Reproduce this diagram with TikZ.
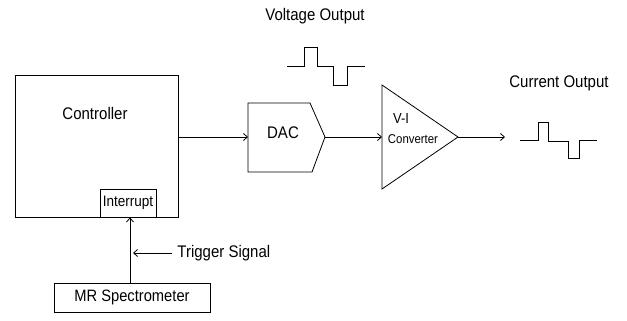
\documentclass[tikz,border=0pt]{standalone}
\usepackage{fontspec}
\usepackage{graphicx}
\setmainfont{Liberation Sans}
\usetikzlibrary{arrows.meta}
\newcommand{\tallt}[1]{\scalebox{1}[1.12]{#1}}
\begin{document}
\begin{tikzpicture}[x=1pt,y=-1pt,
  line width=0.8pt,
  arr/.style={-{Straight Barb[length=4pt,width=7pt]}},
  box/.style={draw,inner sep=0pt,rectangle},
  lbl/.style={inner sep=0pt,font=\fontsize{15}{15}\selectfont}]
\useasboundingbox (0,0) rectangle (627,321);
% Controller
\node[box,minimum width=163pt,minimum height=142pt] (ctrl) at (96.5,146) {};
\node[lbl] (ctrltxt) at (95,113) {\tallt{Controller}};
\node[box,minimum width=56pt,minimum height=28pt,font=\fontsize{13.5}{13.5}\selectfont] (intr) at (128,203) {\tallt{Interrupt}};
% DAC
\coordinate (dacin) at (248,137);
\coordinate (dacout) at (325,137);
\draw (248,103) -- (310,103) -- (dacout) -- (312,172) -- (248,172) -- cycle;
\node[lbl] (dac) at (283,133) {\tallt{DAC}};
\draw[arr] (ctrl.east |- dacin) -- (dacin);
% V-I converter
\coordinate (vin) at (382,137);
\coordinate (vout) at (458,137);
\draw (382,85) -- (vout) -- (382,189) -- cycle;
\node[inner sep=0pt,font=\fontsize{13}{13}\selectfont] (vi) at (401,118) {\tallt{V-I}};
\node[inner sep=0pt,font=\fontsize{11.4}{12}\selectfont] (conv) at (413,139) {\tallt{Converter}};
\draw[arr] (dacout) -- (vin);
\coordinate (iend) at (505,137);
\draw[arr] (vout) -- (iend);
% Voltage output
\node[lbl] (vlab) at (315,16) {\tallt{Voltage Output}};
\draw (287,66) -- (304,66) -- (304,47) -- (317,47) -- (317,66) -- (333,66) -- (333,85) -- (347,85) -- (347,66) -- (365,66);
% Current output
\node[lbl] (clab) at (559,83) {\tallt{Current Output}};
\draw (520,140) -- (538,140) -- (538,122) -- (548,122) -- (548,141) -- (568,141) -- (568,158) -- (579,158) -- (579,140) -- (597,140);
% MR Spectrometer
\node[box,minimum width=156pt,minimum height=29pt,font=\fontsize{14.7}{14.7}\selectfont] (mr) at (132,297.5) {\tallt{MR Spectrometer}};
\coordinate (mrtop) at (130,283);
\draw[arr] (mrtop) -- (mrtop |- intr.south);
% Trigger
\node[lbl,anchor=west] (trig) at (177,253) {\tallt{Trigger Signal}};
\coordinate (tend) at (133,253);
\draw[arr] (172,253) -- (tend);
\end{tikzpicture}
\end{document}
